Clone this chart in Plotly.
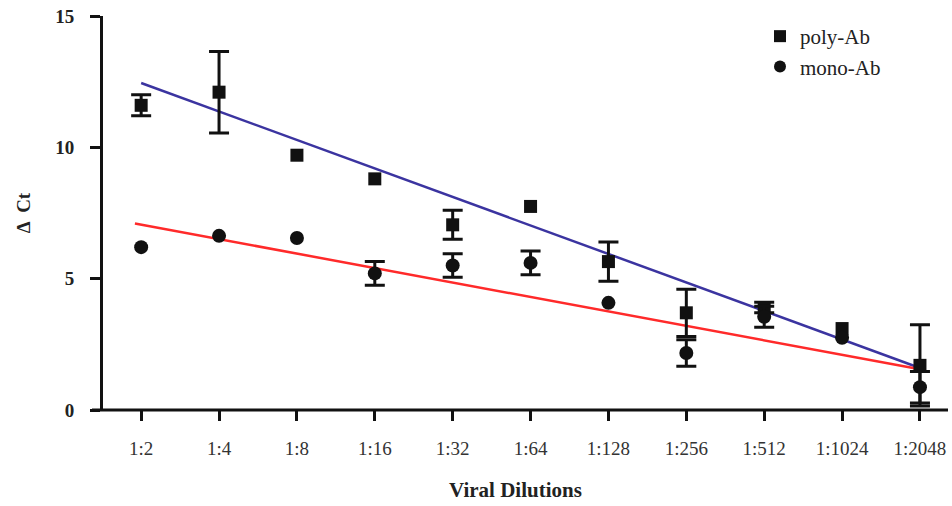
import plotly.graph_objects as go

dilutions = ["1:2", "1:4", "1:8", "1:16", "1:32", "1:64", "1:128", "1:256", "1:512", "1:1024", "1:2048"]
poly_mean = [11.6, 12.1, 9.7, 8.8, 7.05, 7.75, 5.65, 3.7, 3.9, 3.1, 1.7]
poly_err = [0.4, 1.55, None, None, 0.55, None, 0.75, 0.9, 0.2, None, 1.55]
mono_mean = [6.2, 6.63, 6.55, 5.2, 5.5, 5.6, 4.08, 2.17, 3.55, 2.75, 0.87]
mono_err = [None, None, None, 0.45, 0.45, 0.45, None, 0.5, 0.4, None, 0.6]
poly_fit = [12.45, 1.6]   # regression line at 1:2 and 1:2048
mono_fit = [7.1, 1.55]
y_ticks = [0, 5, 10, 15]

xi = list(range(len(dilutions)))
serif = "Liberation Serif, Times New Roman, serif"

W, H = 952, 506
ml, mr, mt, mb = 103, 4, 16, 96

fig = go.Figure()
fig.add_trace(go.Scatter(x=[xi[0], xi[-1]], y=poly_fit, mode="lines",
                         line=dict(color="#3b34a0", width=2.5), showlegend=False, hoverinfo="skip"))
fig.add_trace(go.Scatter(x=[xi[0] - 0.08, xi[-1]], y=mono_fit, mode="lines",
                         line=dict(color="#ff2a2a", width=2.5), showlegend=False, hoverinfo="skip"))


def add_series(name, means, errs, symbol, size):
    idx = [i for i, e in enumerate(errs) if e is not None]
    fig.add_trace(go.Scatter(x=[xi[i] for i in idx], y=[means[i] for i in idx], mode="markers",
                             marker=dict(size=1, opacity=0), showlegend=False, hoverinfo="skip",
                             error_y=dict(type="data", array=[errs[i] for i in idx], color="#111",
                                          thickness=3, width=10),
                             cliponaxis=False))
    fig.add_trace(go.Scatter(x=xi, y=means, mode="markers", name=name,
                             marker=dict(symbol=symbol, size=size, color="#111"), cliponaxis=False))


add_series("poly-Ab", poly_mean, poly_err, "square", 13)
add_series("mono-Ab", mono_mean, mono_err, "circle", 14)

plot_w = W - ml - mr
plot_h = H - mt - mb
fig.update_layout(
    width=W, height=H,
    margin=dict(l=ml, r=mr, t=mt, b=mb),
    paper_bgcolor="white", plot_bgcolor="white",
    font=dict(family=serif, color="#222"),
    legend=dict(x=(760 - ml) / plot_w, y=1.0, xanchor="left", yanchor="top", font=dict(size=21, family=serif),
                bgcolor="rgba(0,0,0,0)", itemsizing="constant"),
    xaxis=dict(range=[-0.49, 10.36], tickvals=xi, ticktext=dilutions, showgrid=False, zeroline=False,
               showline=False, ticks="outside", ticklen=10, tickwidth=3, tickcolor="#111",
               tickfont=dict(size=19, family=serif, color="#333"), ticklabelstandoff=11,
               ticklabeloverflow="allow", automargin=False),
    yaxis=dict(range=[0, 15], tickvals=y_ticks, showgrid=False, zeroline=False,
               showline=True, linecolor="#111", linewidth=3, mirror=False,
               ticks="outside", ticklen=10, tickwidth=3, tickcolor="#111", automargin=False,
               tickfont=dict(size=19, family=serif, color="#222", weight="bold"), ticklabelstandoff=12,
               ticklabeloverflow="allow",
               title=dict(text="<b>Δ  Ct</b>", font=dict(size=19, family=serif, color="#222"), standoff=20)),
    shapes=[dict(type="line", xref="paper", yref="paper", x0=-11 / plot_w, x1=1.0, y0=0, y1=0,
                 line=dict(color="#111", width=3))],
    annotations=[dict(text="<b>Viral Dilutions</b>", xref="paper", yref="paper",
                      x=(515 - ml) / plot_w, y=-(490 - 410) / plot_h,
                      xanchor="center", yanchor="middle", showarrow=False,
                      font=dict(size=21, family=serif, color="#222"))],
)

fig.write_html("out.html", config={"displayModeBar": False},
               post_script="document.body.style.margin='0';document.body.style.overflow='hidden';")
